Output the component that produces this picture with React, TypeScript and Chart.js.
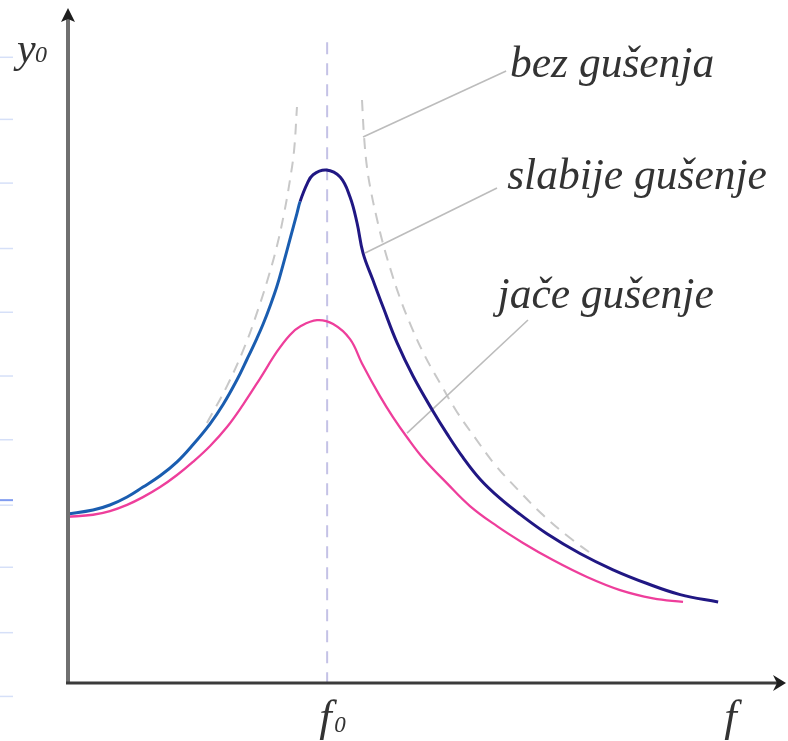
import React, { useEffect, useRef } from 'react';
import { Chart, registerables } from 'chart.js';

Chart.register(...registerables);

// ---- data (x: f / f0, y: amplitude relative to low-frequency amplitude) ----
const FREQ_WEAK = [0, 0.1, 0.165, 0.231, 0.292, 0.358, 0.423, 0.484, 0.55, 0.6, 0.653, 0.692, 0.73, 0.754, 0.78, 0.807, 0.83, 0.857, 0.884, 0.896, 0.923, 0.946, 0.996, 1.05, 1.088, 1.115, 1.138, 1.176, 1.215, 1.269, 1.33, 1.407, 1.461, 1.522, 1.588, 1.665, 1.742, 1.845, 1.972, 2.099, 2.23, 2.357, 2.503];
const AMP_WEAK = [1.007, 1.031, 1.061, 1.109, 1.168, 1.235, 1.318, 1.42, 1.545, 1.66, 1.806, 1.93, 2.055, 2.14, 2.245, 2.365, 2.49, 2.645, 2.8, 2.87, 2.975, 3.03, 3.058, 3.016, 2.897, 2.742, 2.563, 2.402, 2.241, 2.027, 1.83, 1.62, 1.485, 1.345, 1.215, 1.1, 1.005, 0.89, 0.772, 0.675, 0.593, 0.527, 0.483];

const FREQ_STRONG = [0, 0.1, 0.165, 0.231, 0.292, 0.358, 0.423, 0.484, 0.55, 0.615, 0.677, 0.742, 0.807, 0.857, 0.896, 0.961, 1.023, 1.088, 1.134, 1.203, 1.253, 1.307, 1.369, 1.461, 1.549, 1.653, 1.753, 1.868, 1.999, 2.126, 2.253, 2.368];
const AMP_STRONG = [0.99, 1.003, 1.025, 1.062, 1.108, 1.168, 1.24, 1.318, 1.413, 1.526, 1.66, 1.815, 1.975, 2.075, 2.125, 2.163, 2.14, 2.05, 1.905, 1.71, 1.585, 1.465, 1.34, 1.19, 1.055, 0.935, 0.835, 0.733, 0.632, 0.554, 0.505, 0.483];

const FREQ_NONE_LOW = [0.538, 0.615, 0.684, 0.734, 0.773, 0.807, 0.834, 0.857, 0.873, 0.884];
const AMP_NONE_LOW = [1.55, 1.77, 2.009, 2.224, 2.414, 2.605, 2.796, 2.998, 3.177, 3.434];

const FREQ_NONE_HIGH = [1.134, 1.142, 1.153, 1.169, 1.188, 1.211, 1.242, 1.28, 1.326, 1.376, 1.434, 1.499, 1.569, 1.646, 1.734, 1.83, 1.934, 2.022];
const AMP_NONE_HIGH = [3.475, 3.255, 3.076, 2.927, 2.79, 2.641, 2.474, 2.295, 2.116, 1.949, 1.788, 1.616, 1.461, 1.3, 1.151, 1.001, 0.864, 0.763];

const RESONANCE_F = 1;
const RESONANCE_LINE_TOP = 3.82;

const LABELS = ['bez gušenja', 'slabije gušenje', 'jače gušenje'];
const LABEL_X = [1.703, 1.692, 1.655];
const LABEL_Y = [3.613, 2.945, 2.235];
const LEADER_X = [[1.688, 1.138], [1.653, 1.146], [1.772, 1.307]];
const LEADER_Y = [[3.648, 3.255], [2.951, 2.563], [2.164, 1.49]];

const X_MAX = 2.76;
const Y_MAX = 4;
const F_LABEL_X = 2.526;
const EDGE_MARKS = [3.73, 3.36, 2.98, 2.59, 2.21, 1.83, 1.45, 1.06, 0.69, 0.3, -0.08];
const EDGE_MARK_ACCENT = 1.09;

const pts = (xs: number[], ys: number[]) => xs.map((x, i) => ({ x, y: ys[i] }));

const FONT = '"Liberation Serif", "DejaVu Serif", serif';

const decorPlugin = {
  id: 'decor',
  afterDatasetsDraw(chart: any) {
    const { ctx, chartArea, scales } = chart;
    const xs = scales.x;
    const ys = scales.y;
    const { left, right, top, bottom } = chartArea;
    ctx.save();

    // edge marks
    ctx.lineWidth = 1.5;
    ctx.strokeStyle = '#d6e0f8';
    EDGE_MARKS.forEach((v) => {
      const y = ys.getPixelForValue(v);
      ctx.beginPath();
      ctx.moveTo(0, y);
      ctx.lineTo(13, y);
      ctx.stroke();
    });
    ctx.strokeStyle = '#7f9bf0';
    ctx.lineWidth = 2;
    const ya = ys.getPixelForValue(EDGE_MARK_ACCENT);
    ctx.beginPath();
    ctx.moveTo(0, ya);
    ctx.lineTo(13, ya);
    ctx.stroke();

    // y axis
    const ax = left + 1;
    ctx.strokeStyle = '#707070';
    ctx.lineWidth = 4;
    ctx.beginPath();
    ctx.moveTo(ax, bottom + 1);
    ctx.lineTo(ax, top + 6);
    ctx.stroke();
    ctx.fillStyle = '#1e1e1e';
    ctx.beginPath();
    ctx.moveTo(ax, top - 4);
    ctx.lineTo(ax + 7, top + 10);
    ctx.lineTo(ax, top + 7);
    ctx.lineTo(ax - 7, top + 10);
    ctx.closePath();
    ctx.fill();

    // x axis
    ctx.strokeStyle = '#3b3b3b';
    ctx.lineWidth = 3;
    ctx.beginPath();
    ctx.moveTo(left - 1, bottom);
    ctx.lineTo(right - 4, bottom);
    ctx.stroke();
    ctx.fillStyle = '#1e1e1e';
    ctx.beginPath();
    ctx.moveTo(right + 1, bottom);
    ctx.lineTo(right - 12, bottom - 8);
    ctx.lineTo(right - 8, bottom);
    ctx.lineTo(right - 12, bottom + 8);
    ctx.closePath();
    ctx.fill();

    // texts
    ctx.fillStyle = '#333333';
    ctx.textBaseline = 'alphabetic';
    ctx.textAlign = 'left';
    ctx.font = `italic 43.5px ${FONT}`;
    LABELS.forEach((t, i) => {
      ctx.fillText(t, xs.getPixelForValue(LABEL_X[i]), ys.getPixelForValue(LABEL_Y[i]));
    });

    // axis labels
    ctx.font = `italic 42px ${FONT}`;
    ctx.fillText('y', left - 50, top + 50);
    ctx.font = `italic 24px ${FONT}`;
    ctx.fillText('0', left - 32, top + 50);

    const f0x = xs.getPixelForValue(RESONANCE_F);
    ctx.font = `italic 45px ${FONT}`;
    ctx.fillText('f', f0x - 8, bottom + 48);
    ctx.font = `italic 23px ${FONT}`;
    ctx.fillText('0', f0x + 7, bottom + 49);

    ctx.font = `italic 45px ${FONT}`;
    ctx.fillText('f', xs.getPixelForValue(F_LABEL_X), bottom + 48);

    ctx.restore();
  },
};

export default function App() {
  const ref = useRef<HTMLCanvasElement | null>(null);

  useEffect(() => {
    if (!ref.current) return;
    const BLUE = '#1a5db0';
    const NAVY = '#201783';
    const line = (extra: any) => ({
      pointRadius: 0,
      fill: false,
      tension: 0,
      ...extra,
    });
    const chart = new Chart(ref.current, {
      type: 'line',
      data: {
        datasets: [
          line({
            label: 'slabije gušenje',
            data: pts(FREQ_WEAK, AMP_WEAK),
            borderColor: NAVY,
            borderWidth: 3,
            tension: 0.4,
            segment: {
              borderColor: (c: any) => (c.p0.parsed.x < 0.89 ? BLUE : NAVY),
            },
          }),
          line({
            label: 'jače gušenje',
            data: pts(FREQ_STRONG, AMP_STRONG),
            borderColor: '#ee3e9b',
            borderWidth: 2.3,
            tension: 0.4,
          }),
          ...LEADER_X.map((lx, i) =>
            line({
              label: 'leader ' + i,
              data: pts(lx, LEADER_Y[i]),
              borderColor: '#bcbcbc',
              borderWidth: 1.6,
            })
          ),
          line({
            label: 'bez gušenja (1)',
            data: pts(FREQ_NONE_LOW, AMP_NONE_LOW),
            borderColor: '#c8c8c8',
            borderWidth: 2,
            borderDash: [11, 8],
            tension: 0.4,
          }),
          line({
            label: 'bez gušenja (2)',
            data: pts(FREQ_NONE_HIGH, AMP_NONE_HIGH),
            borderColor: '#c8c8c8',
            borderWidth: 2,
            borderDash: [11, 8],
            tension: 0.4,
          }),
          line({
            label: 'f0',
            data: pts([RESONANCE_F, RESONANCE_F], [RESONANCE_LINE_TOP, 0]),
            borderColor: '#c4c2e6',
            borderWidth: 2,
            borderDash: [12, 9],
            clip: false,
          }),
        ],
      },
      options: {
        animation: false,
        responsive: true,
        maintainAspectRatio: false,
        events: [],
        layout: { padding: { left: 67, right: 3, top: 12, bottom: 58 } },
        scales: {
          x: { type: 'linear', min: 0, max: X_MAX, display: false },
          y: { type: 'linear', min: 0, max: Y_MAX, display: false },
        },
        plugins: {
          legend: { display: false },
          tooltip: { enabled: false },
        },
      },
      plugins: [decorPlugin],
    });
    return () => chart.destroy();
  }, []);

  return (
    <div style={{ position: 'absolute', left: 0, top: 0, width: 788, height: 741, background: '#fff' }}>
      <canvas ref={ref} />
    </div>
  );
}
